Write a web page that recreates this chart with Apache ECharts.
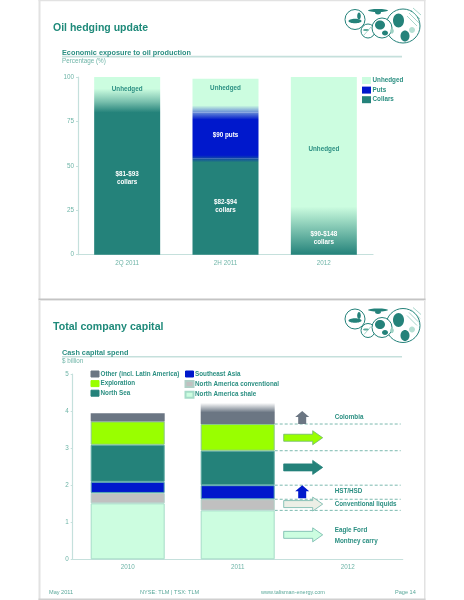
<!DOCTYPE html>
<html><head><meta charset="utf-8">
<style>html,body{margin:0;padding:0;background:#fff}#c{width:464px;height:600px}</style>
<script src="https://cdn.jsdelivr.net/npm/echarts@6/dist/echarts.min.js"></script>
</head><body><div id="c"></div>
<script>
// ---------- data ----------
const hedgeCategories = ['2Q 2011', '2H 2011', '2012'];
const hedgeCollars = [86, 54, 19];
const hedgePuts = [0, 26, 0];
const hedgeUnhedged = [14, 19, 81];
const hedgeTicks = [0, 25, 50, 75, 100];

const capitalCategories = ['2010', '2011', '2012'];
const naShale = [1.51, 1.32, null];
const naConventional = [0.28, 0.30, null];
const southeastAsia = [0.30, 0.38, null];
const northSea = [1.00, 0.93, null];
const exploration = [0.63, 0.72, null];
const other = [0.22, 0.57, null];

const dashLevels = [3.65, 2.93, 2.0, 1.62, 1.32];
const rightArrowLevels = [3.28, 2.48, 1.49, 0.66];
const upArrowRanges = [[3.65, 4.0], [1.65, 2.0]];
const noteLabels = ['Colombia', 'HST/HSD', 'Conventional liquids', 'Eagle Ford', 'Montney carry'];
const noteLevels = [3.83, 1.83, 1.49, 0.79, 0.48];

// ---------- styles ----------
const TEAL = '#24827a', LIGHT = '#ccfde0', BLUE = '#0018cc', GREY = '#c0c0c0',
      LIME = '#99ff00', SLATE = '#6b7683', TXT = '#2b8f82', SOFT = '#6fb5a8', RULE = '#c5e0dc';
const FONT = '"Liberation Sans", Arial, sans-serif';
const vgrad = (stops) => ({type:'linear',x:0,y:0,x2:0,y2:1,
  colorStops:stops.map(s=>({offset:s[0],color:s[1]}))});

const collarFills = [
  vgrad([[0,'#78bfad'],[0.07,TEAL],[1,TEAL]]),
  vgrad([[0,'#124da3'],[0.037,TEAL],[1,TEAL]]),
  vgrad([[0,'#9ad8c1'],[1,TEAL]])
];
const putFills = [null, vgrad([[0,'#668ad6'],[0.154,BLUE],[0.923,BLUE],[1,'#124da3']]), null];
const unhedgedFills = [
  vgrad([[0,LIGHT],[0.47,LIGHT],[1,'#78bfad']]),
  vgrad([[0,LIGHT],[0.79,LIGHT],[1,'#668ad6']]),
  vgrad([[0,LIGHT],[0.9,LIGHT],[1,'#9ad8c1']])
];
const whiteLabel = {show:true,position:'inside',color:'#fff',fontSize:6.3,fontWeight:'bold',fontFamily:FONT,lineHeight:8};
const tealLabel = {show:true,position:'inside',color:TXT,fontSize:6.3,fontWeight:'bold',fontFamily:FONT};

function hedgeSeries(){
  const collarText = ['$81-$93\ncollars','$82-$94\ncollars','$90-$148\ncollars'];
  return [
    {name:'Collars',type:'bar',stack:'h',barWidth:66,xAxisIndex:0,yAxisIndex:0,
     itemStyle:{color:TEAL},
     data:hedgeCollars.map((v,i)=>({value:v,itemStyle:{color:collarFills[i]},
       label:{...whiteLabel,formatter:collarText[i]}}))},
    {name:'Puts',type:'bar',stack:'h',barWidth:66,xAxisIndex:0,yAxisIndex:0,
     itemStyle:{color:BLUE},
     data:hedgePuts.map((v,i)=>v?({value:v,itemStyle:{color:putFills[i]},
       label:{...whiteLabel,formatter:'$90 puts'}}):({value:v}))},
    {name:'Unhedged',type:'bar',stack:'h',barWidth:66,xAxisIndex:0,yAxisIndex:0,
     itemStyle:{color:LIGHT},
     data:hedgeUnhedged.map((v,i)=>({value:v,itemStyle:{color:unhedgedFills[i]},
       label:{...tealLabel,formatter:'Unhedged',offset:[0,i===1?-7:0]}}))}
  ];
}
function capSeries(name,vals,color,border,dataFn){
  return {name,type:'bar',stack:'c',barWidth:74,xAxisIndex:1,yAxisIndex:1,
    itemStyle:{color,borderColor:border,borderWidth:border?1:0},
    data:dataFn?vals.map(dataFn):vals};
}
const rightArrowStyles = [
  {fill:LIME,stroke:'#6fb56f'},{fill:TEAL,stroke:TEAL},
  {fill:'#ecefe6',stroke:'#6fb5a8'},{fill:LIGHT,stroke:'#6fb5a8'}
];
const upArrowFills = [SLATE, BLUE];

const decor = {
  dashes:{type:'custom',xAxisIndex:1,yAxisIndex:1,silent:true,z:3,
    data:dashLevels.map(v=>['2012',v]),
    renderItem:(p,api)=>{
      const a=api.coord([1,api.value(1)]), b=api.coord([2,api.value(1)]);
      return {type:'line',shape:{x1:a[0]+37,y1:a[1],x2:b[0]+53,y2:b[1]},
        style:{stroke:'#5aa89a',lineWidth:0.8,lineDash:[3,2]}};
    }},
  right:{type:'custom',xAxisIndex:1,yAxisIndex:1,silent:true,z:4,
    data:rightArrowLevels.map(v=>['2012',v]),
    renderItem:(p,api)=>{
      const c=api.coord([2,api.value(1)]), x0=c[0]-64,x1=c[0]-35,x2=c[0]-25,y=c[1];
      const s=rightArrowStyles[p.dataIndex];
      return {type:'polygon',shape:{points:[[x0,y-3.5],[x1,y-3.5],[x1,y-7],[x2,y],[x1,y+7],[x1,y+3.5],[x0,y+3.5]]},
        style:{fill:s.fill,stroke:s.stroke,lineWidth:0.8}};
    }},
  up:{type:'custom',xAxisIndex:1,yAxisIndex:1,silent:true,z:4,
    data:upArrowRanges.map(r=>['2012',r[0],r[1]]),
    renderItem:(p,api)=>{
      const b=api.coord([2,api.value(1)]), t=api.coord([2,api.value(2)]);
      const x=b[0]-45.5, mid=t[1]+6;
      return {type:'polygon',shape:{points:[[x-4,b[1]],[x+4,b[1]],[x+4,mid],[x+7,mid],[x,t[1]],[x-7,mid],[x-4,mid]]},
        style:{fill:upArrowFills[p.dataIndex],stroke:null}};
    }},
  notes:{type:'custom',xAxisIndex:1,yAxisIndex:1,silent:true,z:5,
    data:noteLevels.map(v=>['2012',v]),
    renderItem:(p,api)=>{
      const c=api.coord([2,api.value(1)]);
      return {type:'text',style:{x:c[0]-13,y:c[1],text:noteLabels[p.dataIndex],fill:TXT,
        font:'bold 6.3px '+FONT,textAlign:'left',textVerticalAlign:'middle'}};
    }}
};

// ---------- page furniture ----------
function txt(x,y,text,size,color,bold,align){
  return {type:'text',z:20,style:{x,y,text,fill:color,textAlign:align||'left',textVerticalAlign:'middle',
    font:(bold?'bold ':'')+size+'px '+FONT}};
}
function box(x,y,w,h,c){return {type:'rect',z:1,shape:{x,y,width:w,height:h},style:{fill:c}};}
function logo(dy){
  const ring=(x,y,r)=>({type:'circle',z:10,shape:{cx:x,cy:y+dy,r},style:{fill:'#fff',stroke:TEAL,lineWidth:1}});
  const blob=(x,y,rx,ry,c)=>({type:'ellipse',z:11,shape:{cx:x,cy:y+dy,rx,ry},style:{fill:c||TEAL}});
  const hatch=(x1,y1,x2,y2)=>({type:'line',z:11,shape:{x1,y1:y1+dy,x2,y2:y2+dy},style:{stroke:'#7fc4b4',lineWidth:0.7}});
  return [
    ring(355,19.5,10),blob(355,21,6.5,2.3),blob(359,16,1.8,3.6),
    ring(368,31,7),blob(366,30,3,1.1,'#5aa89a'),hatch(364,35,371,27),
    ring(403,26,17),blob(398.5,20.5,5.5,7),blob(405,36,4.5,5.5),blob(392,31,1.8,2.6,'#9ed2c4'),
    hatch(411,10,420,19),hatch(413,8,421,15),hatch(409,13,419,23),hatch(407,16,417,26),
    blob(412,30,3,3,'#b6e0d4'),
    ring(382,28,10),blob(380,25,5,4.5),blob(385,33,3,2.5),
    blob(378,10.5,10,1.5),blob(378,12.5,3,2)
  ];
}
const graphics = [
  box(38.5,0,2,300,'#e2e2e2'),box(424,0,1.5,300,'#e2e2e2'),box(38.5,0,387,1.2,'#e2e2e2'),box(38.5,298.5,387,1.5,'#c4c4c4'),
  box(38.5,300,2,300,'#e2e2e2'),box(424,300,1.5,300,'#e2e2e2'),box(38.5,300,387,1,'#e8e8e8'),box(38.5,598.5,387,1.5,'#d0d0d0'),
  txt(53,28,'Oil hedging update',10.5,'#1f8a7a',true),
  txt(62,52.5,'Economic exposure to oil production',7.3,TXT,true),
  box(62,55.8,340,1.6,RULE),
  txt(62,61.5,'Percentage (%)',6.3,SOFT,false),
  txt(53,327.5,'Total company capital',10.6,'#1f8a7a',true),
  txt(62,353,'Cash capital spend',7.3,TXT,true),
  box(62,356,340,1.6,RULE),
  txt(62,361.5,'$ billion',6.3,SOFT,false),
  txt(49,592,'May 2011',5.6,'#5aa89a',false),
  txt(140,592.5,'NYSE: TLM | TSX: TLM',5.6,'#5aa89a',false),
  txt(261,592.5,'www.talisman-energy.com',5.5,'#5aa89a',false),
  txt(395,592,'Page 14',5.6,'#5aa89a',false),
  ...logo(0),...logo(-0.5+300)
];

const legendBase = {orient:'vertical',icon:'rect',itemWidth:9,itemHeight:7,itemGap:2.6,padding:0,selectedMode:false,
  textStyle:{color:TXT,fontSize:6.3,fontWeight:'bold',fontFamily:FONT,padding:[0,0,0,-3.5]}};
const framed = {...legendBase,itemWidth:8,itemHeight:6};
const plain = (name,color)=>({name,itemStyle:{borderWidth:1,borderColor:color}});
const axisCommon = {
  axisLine:{show:true,lineStyle:{color:RULE,width:1.2}},
  splitLine:{show:false}
};
const option = {
  animation:false,backgroundColor:'#fff',
  graphic:graphics,
  legend:[
    {...legendBase,left:362,top:77,data:['Unhedged','Puts','Collars']},
    {...framed,left:90.5,top:370.5,data:[plain('Other (incl. Latin America)',SLATE),plain('Exploration',LIME),plain('North Sea',TEAL)]},
    {...framed,left:184.5,top:370.5,data:[plain('Southeast Asia',BLUE),'North America conventional','North America shale']}
  ],
  grid:[
    {left:78,top:77,width:295,height:177.7},
    {left:72.7,top:374,width:330,height:185.3}
  ],
  xAxis:[
    {...axisCommon,type:'category',gridIndex:0,data:hedgeCategories,axisTick:{show:false},
     axisLabel:{color:SOFT,fontSize:6.3,fontFamily:FONT,margin:6}},
    {...axisCommon,type:'category',gridIndex:1,data:capitalCategories,axisTick:{show:false},
     axisLabel:{color:SOFT,fontSize:6.3,fontFamily:FONT,margin:5}}
  ],
  yAxis:[
    {...axisCommon,type:'value',gridIndex:0,min:hedgeTicks[0],max:hedgeTicks[4],interval:hedgeTicks[1],
     axisTick:{show:true,length:2,lineStyle:{color:RULE}},
     axisLabel:{color:SOFT,fontSize:6.3,fontFamily:FONT,margin:4}},
    {...axisCommon,type:'value',gridIndex:1,min:0,max:5,interval:1,
     axisTick:{show:true,length:2,lineStyle:{color:RULE}},
     axisLabel:{color:SOFT,fontSize:6.3,fontFamily:FONT,margin:4}}
  ],
  series:[
    ...hedgeSeries(),
    capSeries('North America shale',naShale,LIGHT,'#a5dcc8'),
    capSeries('North America conventional',naConventional,GREY,'#b0cfc6'),
    capSeries('Southeast Asia',southeastAsia,BLUE,'#5aa8b0'),
    capSeries('North Sea',northSea,TEAL,'#5aa8a0'),
    capSeries('Exploration',exploration,LIME,'#88c888'),
    capSeries('Other (incl. Latin America)',other,SLATE,null,(v,i)=>i===1
      ?{value:v,itemStyle:{color:vgrad([[0,'#ffffff'],[0.45,SLATE],[1,SLATE]])}}:v),
    decor.dashes,decor.right,decor.up,decor.notes
  ]
};
const chart = echarts.init(document.getElementById('c'),null,{renderer:'canvas',width:464,height:600});
chart.setOption(option);
</script></body></html>
